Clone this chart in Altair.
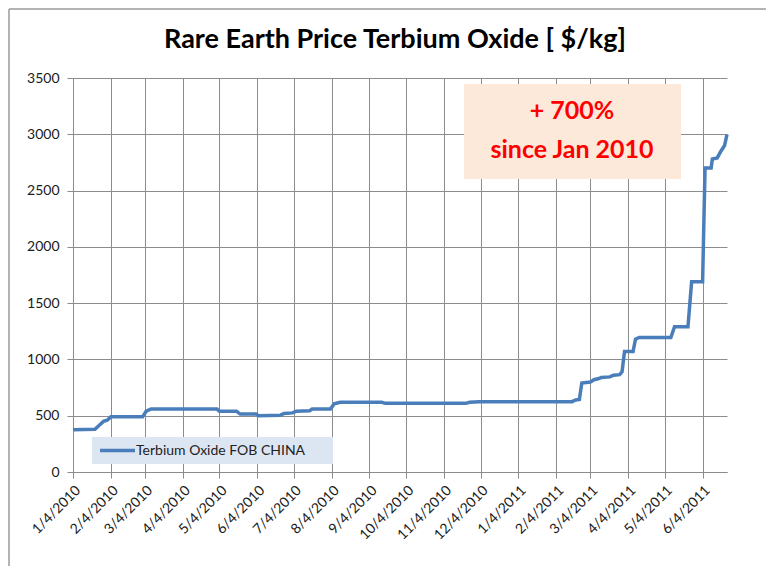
import altair as alt
import pandas as pd

dates = [
    "2010-01-04", "2010-01-22", "2010-01-26", "2010-01-29", "2010-02-01", "2010-02-04",
    "2010-03-02", "2010-03-05", "2010-03-09", "2010-05-02", "2010-05-04", "2010-05-18",
    "2010-05-21", "2010-06-03", "2010-06-05", "2010-06-23", "2010-06-26", "2010-07-03",
    "2010-07-06", "2010-07-17", "2010-07-19", "2010-08-03", "2010-08-06", "2010-08-11",
    "2010-09-14", "2010-09-17", "2010-11-22", "2010-11-25", "2010-12-03", "2011-02-17",
    "2011-02-20", "2011-02-23", "2011-02-25", "2011-03-04", "2011-03-07", "2011-03-11",
    "2011-03-13", "2011-03-20", "2011-03-23", "2011-03-28", "2011-03-30", "2011-04-01",
    "2011-04-08", "2011-04-10", "2011-04-13", "2011-05-09", "2011-05-12", "2011-05-23",
    "2011-05-26", "2011-06-04", "2011-06-06", "2011-06-11", "2011-06-12", "2011-06-16",
    "2011-06-19", "2011-06-22", "2011-06-24",
]
prices = [
    375, 380, 420, 450, 460, 490,
    490, 540, 560, 560, 540, 540,
    515, 515, 500, 505, 520, 525,
    540, 545, 560, 560, 605, 620,
    620, 610, 610, 620, 625, 625,
    640, 645, 790, 800, 820, 830,
    840, 845, 860, 865, 890, 1070,
    1070, 1180, 1195, 1195, 1290, 1290,
    1690, 1690, 2700, 2700, 2780, 2790,
    2850, 2900, 3000,
]
series_name = "Terbium Oxide FOB CHINA"
tick_dates = [
    "2010-01-04", "2010-02-04", "2010-03-04", "2010-04-04", "2010-05-04", "2010-06-04",
    "2010-07-04", "2010-08-04", "2010-09-04", "2010-10-04", "2010-11-04", "2010-12-04",
    "2011-01-04", "2011-02-04", "2011-03-04", "2011-04-04", "2011-05-04", "2011-06-04",
]
y_ticks = [0, 500, 1000, 1500, 2000, 2500, 3000, 3500]
title_text = "Rare Earth Price Terbium Oxide [ $/kg]"
note_lines = ["+ 700%", "since Jan 2010"]

df = pd.DataFrame({"date": pd.to_datetime(dates), "price": prices, "series": series_name})

W, H = 654, 394
FONT = "Lato"
GRID = "#8c8c8c"
LINE_COLOR = "#4a7ebb"

tick_values = [alt.DateTime(year=int(d[:4]), month=int(d[5:7]), date=int(d[8:10])) for d in tick_dates]

x_enc = alt.X(
    "date:T",
    scale=alt.Scale(domain=[alt.DateTime(year=2010, month=1, date=4),
                            alt.DateTime(year=2011, month=6, date=24)]),
    axis=alt.Axis(
        values=tick_values, format="%-m/%-d/%Y", labelAngle=-45, title=None,
        grid=True, gridColor=GRID, gridWidth=1, domainColor=GRID, tickColor=GRID,
        tickSize=6, labelFontSize=14, labelFont=FONT, labelColor="#1a1a1a",
        labelPadding=5, labelOverlap=False,
    ),
)
y_enc = alt.Y(
    "price:Q",
    scale=alt.Scale(domain=[0, 3500], nice=False),
    axis=alt.Axis(
        values=y_ticks, format="d", title=None, grid=True, gridColor=GRID, gridWidth=1,
        domainColor=GRID, tickColor=GRID, tickSize=6, labelFontSize=14,
        labelFont=FONT, labelColor="#1a1a1a", labelPadding=8,
    ),
)

line = alt.Chart(df).mark_line(strokeWidth=3.5, interpolate="linear", color=LINE_COLOR).encode(
    x=x_enc,
    y=y_enc,
)

one = pd.DataFrame({"a": [0]})

# outer chart frame: only left and top edges are visible in the reference
frame_left = alt.Chart(one).mark_rule(stroke="#9a9a9a", strokeWidth=1.5, clip=False).encode(
    x=alt.value(-64), y=alt.value(-69), y2=alt.value(H + 94))
frame_top = alt.Chart(one).mark_rule(stroke="#9a9a9a", strokeWidth=1.5, clip=False).encode(
    x=alt.value(-64), x2=alt.value(W + 39), y=alt.value(-69))

# legend (drawn manually to match the boxed Excel-style legend)
leg_box = alt.Chart(one).mark_rect(fill="#dce6f2").encode(
    x=alt.value(19), x2=alt.value(260), y=alt.value(359), y2=alt.value(386))
leg_line = alt.Chart(one).mark_rule(color=LINE_COLOR, strokeWidth=3.5).encode(
    x=alt.value(27), x2=alt.value(62), y=alt.value(372.5))
leg_text = alt.Chart(pd.DataFrame({"t": [series_name]})).mark_text(
    font=FONT, fontSize=14, color="#222222", align="left", baseline="middle"
).encode(x=alt.value(63), y=alt.value(373), text="t:N")

box = alt.Chart(one).mark_rect(
    fill="#fde9d9"
).encode(x=alt.value(391), x2=alt.value(608), y=alt.value(6), y2=alt.value(101))

note1 = alt.Chart(pd.DataFrame({"t": [note_lines[0]]})).mark_text(
    font=FONT, fontSize=25, fontWeight="bold", color="#ff0000", align="center", baseline="middle"
).encode(x=alt.value(499), y=alt.value(33), text="t:N")
note2 = alt.Chart(pd.DataFrame({"t": [note_lines[1]]})).mark_text(
    font=FONT, fontSize=25, fontWeight="bold", color="#ff0000", align="center", baseline="middle"
).encode(x=alt.value(499), y=alt.value(72), text="t:N")

title = alt.Chart(pd.DataFrame({"t": [title_text]})).mark_text(
    font=FONT, fontSize=27, fontWeight="bold", color="#000000", align="center",
    baseline="middle", clip=False
).encode(x=alt.value(322), y=alt.value(-38), text="t:N")

chart = alt.layer(frame_left, frame_top, box, note1, note2, title, line,
                  leg_box, leg_line, leg_text).properties(
    width=W, height=H,
    autosize=alt.AutoSizeParams(type="none"),
    padding={"left": 65, "top": 70, "right": 39, "bottom": 94},
    background="white",
).configure_view(stroke=None)

chart.save("out.html", embed_options={"renderer": "svg", "actions": False})
